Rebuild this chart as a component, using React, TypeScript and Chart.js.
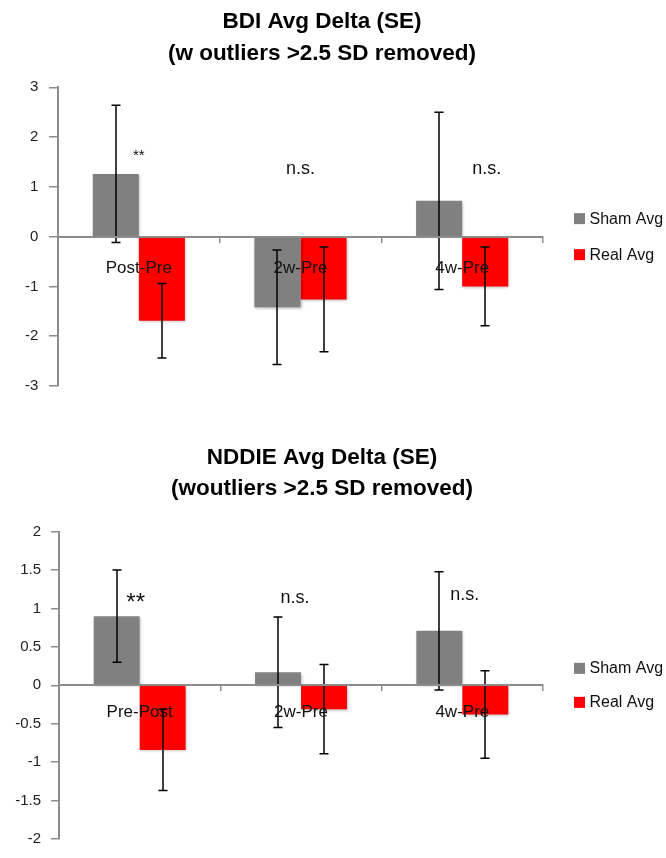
import React, { useEffect, useRef } from 'react';
import { Chart, registerables } from 'chart.js';

Chart.register(...registerables);

// ---------- data ----------
const SERIES_LABELS = ['Sham Avg', 'Real Avg'];
const SERIES_COLORS = ['#808080', '#ff0000'];

const BDI_TITLE = ['BDI Avg Delta (SE)', '(w outliers >2.5 SD removed)'];
const BDI_CATEGORIES = ['Post-Pre', '2w-Pre', '4w-Pre'];
const BDI_SHAM = [1.26, -1.42, 0.72];
const BDI_SHAM_SE = [1.38, 1.15, 1.78];
const BDI_REAL = [-1.69, -1.26, -1.0];
const BDI_REAL_SE = [0.75, 1.05, 0.79];
const BDI_SIG = ['**', 'n.s.', 'n.s.'];
const BDI_SIG_AT = [1.54, 1.26, 1.26];
const BDI_Y_RANGE = [-3, 3];
const BDI_Y_STEP = 1;

const NDDIE_TITLE = ['NDDIE Avg Delta (SE)', '(woutliers >2.5 SD removed)'];
const NDDIE_CATEGORIES = ['Pre-Post', '2w-Pre', '4w-Pre'];
const NDDIE_SHAM = [0.9, 0.17, 0.71];
const NDDIE_SHAM_SE = [0.6, 0.72, 0.77];
const NDDIE_REAL = [-0.84, -0.31, -0.38];
const NDDIE_REAL_SE = [0.53, 0.58, 0.57];
const NDDIE_SIG = ['**', 'n.s.', 'n.s.'];
const NDDIE_SIG_AT = [0.98, 1.07, 1.11];
const NDDIE_Y_RANGE = [-2, 2];
const NDDIE_Y_STEP = 0.5;

// ---------- styling ----------
const FONT = '"Liberation Sans", Arial, Helvetica, sans-serif';
const AXIS_COLOR = '#8c8c8c';

type Spec = {
  title: string[];
  categories: string[];
  sham: number[];
  shamSE: number[];
  real: number[];
  realSE: number[];
  sig: string[];
  sigAt: number[];
  range: number[];
  step: number;
};

type Style = {
  height: number;
  padTop: number;
  padBottom: number;
  yWidth: number;
  yTick: number;
  yPad: number;
  xLabelPad: number;
  titleBaselines: number[];
  sigFonts: number[];
  sigDx: number[];
  legendGap: number;
};

const BDI_SPEC: Spec = {
  title: BDI_TITLE,
  categories: BDI_CATEGORIES,
  sham: BDI_SHAM,
  shamSE: BDI_SHAM_SE,
  real: BDI_REAL,
  realSE: BDI_REAL_SE,
  sig: BDI_SIG,
  sigAt: BDI_SIG_AT,
  range: BDI_Y_RANGE,
  step: BDI_Y_STEP,
};

const NDDIE_SPEC: Spec = {
  title: NDDIE_TITLE,
  categories: NDDIE_CATEGORIES,
  sham: NDDIE_SHAM,
  shamSE: NDDIE_SHAM_SE,
  real: NDDIE_REAL,
  realSE: NDDIE_REAL_SE,
  sig: NDDIE_SIG,
  sigAt: NDDIE_SIG_AT,
  range: NDDIE_Y_RANGE,
  step: NDDIE_Y_STEP,
};

const BDI_STYLE: Style = {
  height: 430,
  padTop: 87.3,
  padBottom: 44,
  yWidth: 58,
  yTick: 9,
  yPad: 10.7,
  xLabelPad: 16.2,
  titleBaselines: [27.5, 59.5],
  sigFonts: [15, 18, 18],
  sigDx: [0, 0, 24.5],
  legendGap: 18,
};

const NDDIE_STYLE: Style = {
  height: 428,
  padTop: 101.7,
  padBottom: 9,
  yWidth: 59,
  yTick: 8,
  yPad: 10,
  xLabelPad: 11.9,
  titleBaselines: [33.5, 65],
  sigFonts: [24, 18, 18],
  sigDx: [-4, -6, 2.5],
  legendGap: 17,
};

function makeConfig(spec: Spec, style: Style): any {
  const plugin = {
    id: 'extras',
    beforeDatasetsDraw(chart: any) {
      const ctx = chart.ctx;
      ctx.save();
      ctx.shadowColor = 'rgba(0,0,0,0.28)';
      ctx.shadowBlur = 3;
      ctx.shadowOffsetX = 1;
      ctx.shadowOffsetY = 1.5;
    },
    afterDatasetsDraw(chart: any) {
      const ctx = chart.ctx;
      ctx.restore();
      const y = chart.scales.y;
      ctx.save();
      ctx.strokeStyle = '#000';
      ctx.lineWidth = 1.5;
      [spec.shamSE, spec.realSE].forEach((se, di) => {
        const meta = chart.getDatasetMeta(di);
        const vals = chart.data.datasets[di].data as number[];
        meta.data.forEach((bar: any, j: number) => {
          const x = Math.round(bar.x);
          const yt = y.getPixelForValue(vals[j] + se[j]);
          const yb = y.getPixelForValue(vals[j] - se[j]);
          ctx.beginPath();
          ctx.moveTo(x, yt);
          ctx.lineTo(x, yb);
          ctx.moveTo(x - 4.5, yt);
          ctx.lineTo(x + 4.5, yt);
          ctx.moveTo(x - 4.5, yb);
          ctx.lineTo(x + 4.5, yb);
          ctx.stroke();
        });
      });
      ctx.restore();
    },
    afterDraw(chart: any) {
      const ctx = chart.ctx;
      const area = chart.chartArea;
      const xs = chart.scales.x;
      const ys = chart.scales.y;
      ctx.save();
      // title
      ctx.fillStyle = '#000';
      ctx.textAlign = 'center';
      ctx.textBaseline = 'alphabetic';
      ctx.font = `bold 22.5px ${FONT}`;
      spec.title.forEach((line, i) => {
        ctx.fillText(line, 322, style.titleBaselines[i]);
      });
      // significance marks
      spec.sig.forEach((txt, j) => {
        ctx.font = `${style.sigFonts[j]}px ${FONT}`;
        ctx.fillStyle = '#111';
        const px = xs.getPixelForValue(j) + style.sigDx[j];
        ctx.fillText(txt, px, ys.getPixelForValue(spec.sigAt[j]));
      });
      // legend
      const mid = (area.top + area.bottom) / 2;
      ctx.textAlign = 'left';
      ctx.textBaseline = 'middle';
      ctx.font = `16px ${FONT}`;
      chart.data.datasets.forEach((ds: any, i: number) => {
        const cy = mid + (i === 0 ? -style.legendGap : style.legendGap);
        ctx.fillStyle = ds.backgroundColor;
        ctx.fillRect(area.right + 31, cy - 5.5, 11, 11);
        ctx.fillStyle = '#111';
        ctx.fillText(ds.label, area.right + 46.5, cy + 0.5);
      });
      ctx.restore();
    },
  };

  return {
    type: 'bar',
    data: {
      labels: spec.categories,
      datasets: [
        {
          label: SERIES_LABELS[0],
          data: spec.sham,
          backgroundColor: SERIES_COLORS[0],
          borderWidth: 0,
          categoryPercentage: 0.57,
          barPercentage: 1.0,
        },
        {
          label: SERIES_LABELS[1],
          data: spec.real,
          backgroundColor: SERIES_COLORS[1],
          borderWidth: 0,
          categoryPercentage: 0.57,
          barPercentage: 1.0,
        },
      ],
    },
    options: {
      animation: false,
      responsive: false,
      devicePixelRatio: 1,
      events: [],
      layout: {
        padding: { top: style.padTop, bottom: style.padBottom, left: 0, right: 123 },
      },
      font: { family: FONT },
      plugins: {
        legend: { display: false },
        title: { display: false },
        tooltip: { enabled: false },
      },
      scales: {
        x: {
          position: { y: 0 },
          offset: true,
          afterFit: (s: any) => {
            s.height = 0;
          },
          border: { display: true, color: AXIS_COLOR, width: 2, z: 1 },
          grid: {
            display: true,
            offset: true,
            drawOnChartArea: false,
            drawTicks: true,
            tickLength: 5,
            color: AXIS_COLOR,
            lineWidth: 1.5,
            z: 1,
          },
          ticks: {
            font: { family: FONT, size: 17 },
            color: '#111',
            padding: style.xLabelPad,
            maxRotation: 0,
            autoSkip: false,
            z: 2,
          },
        },
        y: {
          min: spec.range[0],
          max: spec.range[1],
          afterFit: (s: any) => {
            s.width = style.yWidth;
          },
          border: { display: true, color: AXIS_COLOR, width: 2 },
          grid: {
            display: true,
            drawOnChartArea: false,
            drawTicks: true,
            tickLength: style.yTick,
            color: AXIS_COLOR,
            lineWidth: 1.5,
          },
          ticks: {
            stepSize: spec.step,
            font: { family: FONT, size: 15 },
            color: '#222',
            padding: style.yPad,
            callback: (v: any) => String(Number(v)),
          },
        },
      },
    },
    plugins: [plugin],
  };
}

function BarPanel({ spec, style }: { spec: Spec; style: Style }) {
  const ref = useRef<HTMLCanvasElement | null>(null);
  useEffect(() => {
    if (!ref.current) return;
    const chart = new Chart(ref.current, makeConfig(spec, style));
    return () => chart.destroy();
  }, [spec, style]);
  return (
    <canvas
      ref={ref}
      width={666}
      height={style.height}
      style={{ display: 'block', width: 666, height: style.height }}
    />
  );
}

export default function App() {
  return (
    <div
      style={{
        position: 'absolute',
        left: 0,
        top: 0,
        width: 666,
        height: 858,
        background: '#fff',
        overflow: 'hidden',
      }}
    >
      <BarPanel spec={BDI_SPEC} style={BDI_STYLE} />
      <BarPanel spec={NDDIE_SPEC} style={NDDIE_STYLE} />
    </div>
  );
}
